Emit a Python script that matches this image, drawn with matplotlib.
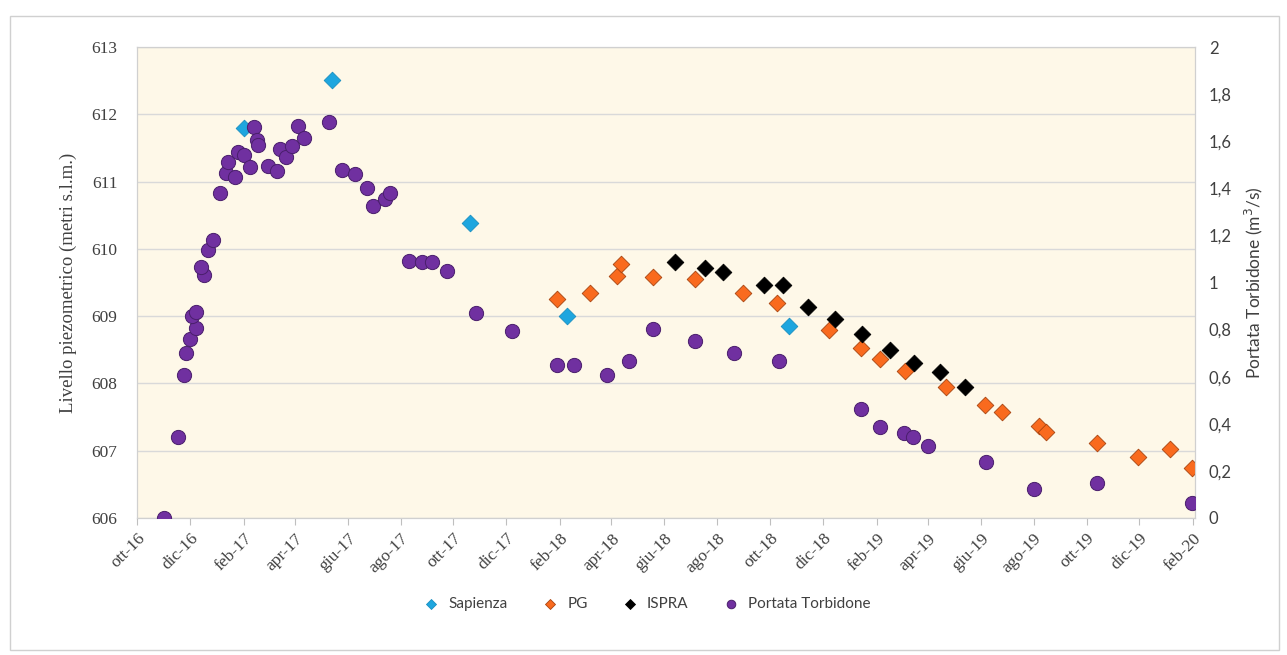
import matplotlib
matplotlib.use("Agg")
import matplotlib.pyplot as plt
from matplotlib.patches import Rectangle
import pandas as pd

# ---------------------------------------------------------------------------
# Data
# ---------------------------------------------------------------------------
sapienza_dates = ["2017-02-02", "2017-05-14", "2017-10-20", "2018-02-09", "2018-10-23"]
sapienza_level = [611.79, 612.51, 610.39, 609.00, 608.86]

pg_dates = ["2018-01-28", "2018-03-07", "2018-04-07", "2018-04-12", "2018-05-19",
            "2018-07-07", "2018-08-31", "2018-10-09", "2018-12-08", "2019-01-14",
            "2019-02-05", "2019-03-06", "2019-04-22", "2019-06-06", "2019-06-25",
            "2019-08-07", "2019-08-15", "2019-10-13", "2019-11-29", "2020-01-05",
            "2020-01-31"]
pg_level = [609.26, 609.35, 609.59, 609.78, 609.58,
            609.55, 609.35, 609.20, 608.79, 608.53,
            608.37, 608.18, 607.94, 607.68, 607.57,
            607.36, 607.28, 607.11, 606.91, 607.02,
            606.75]

ispra_dates = ["2018-06-14", "2018-07-18", "2018-08-08", "2018-09-24", "2018-10-16",
               "2018-11-14", "2018-12-15", "2019-01-15", "2019-02-16", "2019-03-16",
               "2019-04-15", "2019-05-14"]
ispra_level = [609.80, 609.71, 609.65, 609.47, 609.47,
               609.14, 608.96, 608.74, 608.49, 608.31,
               608.17, 607.95]

portata_dates = ["2016-11-01", "2016-11-17", "2016-11-24", "2016-11-26", "2016-12-01",
                 "2016-12-08", "2016-12-04", "2016-12-08", "2016-12-17", "2016-12-14",
                 "2016-12-22", "2016-12-28", "2017-01-05", "2017-01-12", "2017-01-22",
                 "2017-01-14", "2017-01-25", "2017-02-02", "2017-02-08", "2017-02-13",
                 "2017-02-16", "2017-02-18", "2017-03-01", "2017-03-11", "2017-03-15",
                 "2017-03-22", "2017-03-29", "2017-04-05", "2017-04-12", "2017-05-11",
                 "2017-05-25", "2017-06-09", "2017-06-23", "2017-06-30", "2017-07-14",
                 "2017-07-20", "2017-08-11", "2017-08-26", "2017-09-06", "2017-09-23",
                 "2017-10-27", "2017-12-08", "2018-01-28", "2018-02-17", "2018-03-27",
                 "2018-04-21", "2018-05-19", "2018-07-06", "2018-08-21", "2018-10-11",
                 "2019-01-14", "2019-02-05", "2019-03-05", "2019-03-15", "2019-04-01",
                 "2019-06-07", "2019-08-01", "2019-10-13", "2020-01-31"]
portata_flow = [0.00, 0.345, 0.607, 0.702, 0.759,
                0.808, 0.858, 0.873, 1.032, 1.067,
                1.138, 1.180, 1.381, 1.464, 1.449,
                1.513, 1.555, 1.541, 1.492, 1.662,
                1.605, 1.584, 1.495, 1.475, 1.566,
                1.532, 1.580, 1.665, 1.612, 1.683,
                1.478, 1.459, 1.403, 1.325, 1.353,
                1.381, 1.093, 1.086, 1.086, 1.050,
                0.872, 0.794, 0.650, 0.650, 0.607,
                0.668, 0.803, 0.752, 0.702, 0.667,
                0.462, 0.385, 0.360, 0.343, 0.306,
                0.239, 0.122, 0.147, 0.062]

tick_dates = ["2016-10-01", "2016-12-01", "2017-02-01", "2017-04-01", "2017-06-01",
              "2017-08-01", "2017-10-01", "2017-12-01", "2018-02-01", "2018-04-01",
              "2018-06-01", "2018-08-01", "2018-10-01", "2018-12-01", "2019-02-01",
              "2019-04-01", "2019-06-01", "2019-08-01", "2019-10-01", "2019-12-01",
              "2020-02-01"]
tick_labels = ["ott-16", "dic-16", "feb-17", "apr-17", "giu-17", "ago-17", "ott-17",
               "dic-17", "feb-18", "apr-18", "giu-18", "ago-18", "ott-18", "dic-18",
               "feb-19", "apr-19", "giu-19", "ago-19", "ott-19", "dic-19", "feb-20"]

left_ticks = [606, 607, 608, 609, 610, 611, 612, 613]
right_ticks = [0, 0.2, 0.4, 0.6, 0.8, 1.0, 1.2, 1.4, 1.6, 1.8, 2.0]
right_labels = ["0", "0,2", "0,4", "0,6", "0,8", "1", "1,2", "1,4", "1,6", "1,8", "2"]

# ---------------------------------------------------------------------------
SERIF = ["Liberation Serif", "DejaVu Serif"]
SANS = ["Lato", "DejaVu Sans"]
GRID = "#D9D9D9"
TXT = "#404040"

fig = plt.figure(figsize=(12.87, 6.55), dpi=100)
fig.patches.append(Rectangle((0.008, 0.008), 0.986, 0.968, transform=fig.transFigure,
                             fill=False, edgecolor="#D0D0D0", linewidth=1.0))

ax = fig.add_axes([0.1064, 0.2092, 0.8221, 0.7190])
ax.set_facecolor("#FEF8E8")
ax2 = ax.twinx()
ax2.patch.set_visible(False)

to_dt = pd.to_datetime
ax.scatter(to_dt(sapienza_dates), sapienza_level, marker="D", s=72, color="#1EA6DF",
           edgecolor="#1A8FC0", linewidth=0.6, label="Sapienza", zorder=3)
ax.scatter(to_dt(pg_dates), pg_level, marker="D", s=72, color="#F96A1E",
           edgecolor="#A84410", linewidth=0.6, label="PG", zorder=3)
ax.scatter(to_dt(ispra_dates), ispra_level, marker="D", s=72, color="#000000",
           edgecolor="#000000", linewidth=0.6, label="ISPRA", zorder=3)
ax2.scatter(to_dt(portata_dates), portata_flow, marker="o", s=105, color="#7030A0",
            edgecolor="#4A1F6C", linewidth=0.7, label="Portata Torbidone", zorder=3)

ax.set_xlim(to_dt("2016-10-01"), to_dt("2020-02-03"))
ax.set_ylim(606, 613)
ax2.set_ylim(0, 2)

ax.set_yticks(left_ticks)
ax.set_yticklabels([str(t) for t in left_ticks], family=SERIF, fontsize=12.5, color=TXT)
ax2.set_yticks(right_ticks)
ax2.set_yticklabels(right_labels, family=SANS, fontsize=12, color=TXT)
ax.tick_params(axis="y", length=0, pad=14)
ax2.tick_params(axis="y", length=0, pad=10)

ax.set_xticks(to_dt(tick_dates))
ax.set_xticklabels(tick_labels, rotation=45, ha="right", rotation_mode="anchor",
                   family=SERIF, fontsize=12.5, color=TXT)
ax.tick_params(axis="x", length=5, color="#BFBFBF", pad=4)

ax.grid(axis="y", color=GRID, linewidth=1.0)
ax.set_axisbelow(True)
for a in (ax, ax2):
    for side in a.spines.values():
        side.set_color("#D0D0D0")
        side.set_linewidth(0.8)

ax.set_ylabel("Livello piezometrico (metri s.l.m.)", family=SERIF, fontsize=13.5,
              color=TXT, labelpad=10)
ax2.set_ylabel("Portata Torbidone (m$^3$/s)", family=SANS, fontsize=12.5,
               color=TXT, labelpad=8)

h1, l1 = ax.get_legend_handles_labels()
h2, l2 = ax2.get_legend_handles_labels()
fig.legend(h1 + h2, l1 + l2, loc="center", bbox_to_anchor=(0.5, 0.078), ncol=4,
           frameon=False, prop={"family": SANS, "size": 11}, markerscale=0.6,
           handletextpad=0.1, columnspacing=1.8, labelcolor=TXT)

fig.savefig("out.png", dpi=100)
